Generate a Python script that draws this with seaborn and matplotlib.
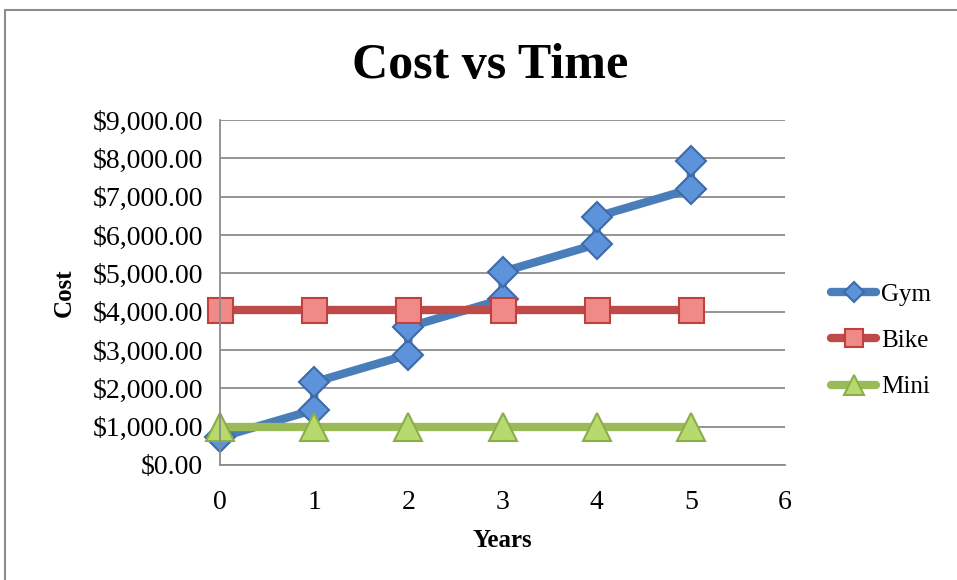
import matplotlib
matplotlib.use("Agg")
import matplotlib.pyplot as plt
from matplotlib.patches import Rectangle
from matplotlib.ticker import FuncFormatter
import seaborn as sns
import pandas as pd

# Cost data per year
gym_years = [0, 1, 1, 2, 2, 3, 3, 4, 4, 5, 5]
gym_cost = [720, 1440, 2160, 2880, 3600, 4320, 5040, 5760, 6480, 7200, 7920]
bike_years = [0, 1, 2, 3, 4, 5]
bike_cost = [4050, 4050, 4050, 4050, 4050, 4050]
mini_years = [0, 1, 2, 3, 4, 5]
mini_cost = [1000, 1000, 1000, 1000, 1000, 1000]

sns.set_theme(style="white")
plt.rcParams["font.family"] = ["Liberation Serif", "DejaVu Serif"]
plt.rcParams.update({"text.color": "black", "axes.labelcolor": "black",
                     "xtick.color": "black", "ytick.color": "black"})

fig = plt.figure(figsize=(9.57, 5.8), dpi=100)
ax = fig.add_axes([0.2299, 0.1983, 0.5904, 0.5948])

# outer chart frame
fig.patches.append(Rectangle((5 / 957, -0.05), 1.2, 1 - 10 / 580 + 0.05,
                             transform=fig.transFigure, fill=False,
                             edgecolor="#8c8c8c", linewidth=1.5))

series = [
    ("Gym", gym_years, gym_cost, "#4A7EBB", "D", "#5D93DA", "#3D6BA8", 15),
    ("Bike", bike_years, bike_cost, "#BE4B48", "s", "#F08A88", "#C0403D", 18),
    ("Mini", mini_years, mini_cost, "#9BBB59", "^", "#B7D96E", "#8AAE48", 20),
]

for name, xs, ys, col, mk, mfc, mec, ms in series:
    df = pd.DataFrame({"Years": xs, "Cost": ys})
    sns.lineplot(data=df, x="Years", y="Cost", ax=ax, estimator=None, sort=False,
                 color=col, linewidth=6, marker=mk, markersize=ms,
                 markerfacecolor=mfc, markeredgecolor=mec, markeredgewidth=1.5,
                 label=name, solid_capstyle="round", clip_on=False)

ax.set_xlim(0, 6)
ax.set_ylim(0, 9000)
ax.set_xticks(range(0, 7))
ax.set_yticks(range(0, 9001, 1000))
ax.yaxis.set_major_formatter(FuncFormatter(lambda v, p: f"${v:,.2f}"))
ax.tick_params(axis="both", labelsize=20, length=0, pad=12)
ax.tick_params(axis="x", pad=18)

ax.grid(axis="y", color="#8c8c8c", linewidth=1.3)
ax.set_axisbelow(True)
for s in ["top", "right"]:
    ax.spines[s].set_visible(False)
ax.spines["left"].set_color("#8c8c8c")
ax.spines["left"].set_linewidth(1.3)
ax.spines["bottom"].set_color("#8c8c8c")
ax.spines["bottom"].set_linewidth(1.3)

ax.set_xlabel("Years", fontsize=18, fontweight="bold", labelpad=10)
ax.set_ylabel("Cost", fontsize=18, fontweight="bold", labelpad=12)

fig.text(0.512, 0.886, "Cost vs Time", ha="center", va="center",
         fontsize=36, fontweight="bold")

leg = ax.legend(loc="center left", bbox_to_anchor=(1.042, 0.36), frameon=False,
                fontsize=18, handlelength=1.8, labelspacing=0.95, handletextpad=0.2,
                markerscale=0.7)

fig.savefig("out.png", dpi=100)
